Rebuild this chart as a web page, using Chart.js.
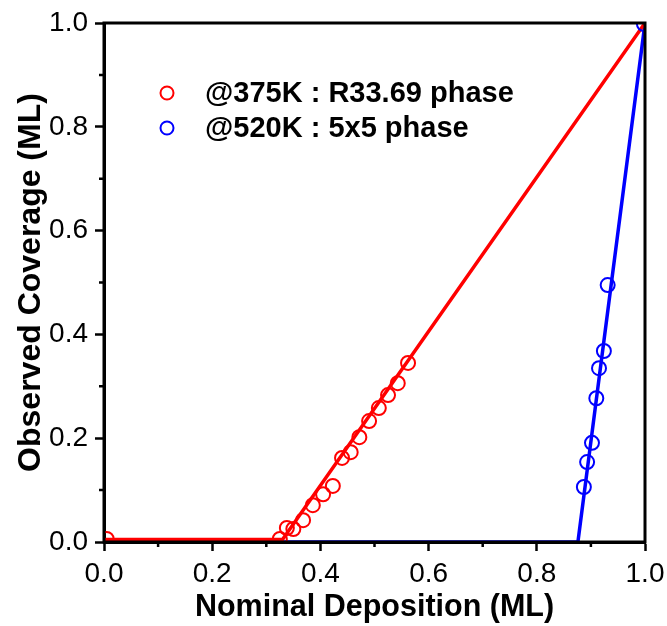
<!DOCTYPE html>
<html>
<head>
<meta charset="utf-8">
<script src="https://cdn.jsdelivr.net/npm/chart.js@4.4.1/dist/chart.umd.min.js"></script>
<style>
  html, body { margin: 0; padding: 0; background: #fff; }
  #wrap { width: 667px; height: 626px; }
</style>
</head>
<body>
<div id="wrap"><canvas id="myChart" width="667" height="626"></canvas></div>
<script>
'use strict';
// measured points
let redLabel = '@375K : R33.69 phase';
let redX = [0.005, 0.325, 0.338, 0.350, 0.368, 0.386, 0.405, 0.423, 0.440, 0.456, 0.472, 0.490, 0.508, 0.525, 0.543, 0.562];
let redY = [0.006, 0.006, 0.027, 0.025, 0.042, 0.071, 0.092, 0.108, 0.162, 0.173, 0.202, 0.233, 0.258, 0.283, 0.306, 0.345];

let blueLabel = '@520K : 5x5 phase';
let blueX = [0.887, 0.893, 0.902, 0.910, 0.915, 0.924, 0.931, 0.998];
let blueY = [0.106, 0.154, 0.191, 0.277, 0.335, 0.368, 0.495, 0.998];

// fitted lines (break points)
let redFitX = [0, 0.330, 1.0];
let redFitY = [0.005, 0.005, 1.0];
let blueFitX = [0, 0.876, 1.0];
let blueFitY = [0, 0, 1.0];

let xTicks = [0, 0.2, 0.4, 0.6, 0.8, 1.0];
let minorTicks = [0.1, 0.3, 0.5, 0.7, 0.9];

function toPoints( xs, ys ) {
  let pts = [];
  for ( let i = 0; i < xs.length; i++ ) {
    pts.push( { x: xs[i], y: ys[i] } );
  }
  return pts;
}

const fontFamily = '"Liberation Sans", Arial, sans-serif';

// frame + minor ticks + legend inside the plot
const extras = {
  id: 'extras',
  afterDraw( chart ) {
    const ctx = chart.ctx;
    const a = chart.chartArea;
    const xs = chart.scales.x;
    const ys = chart.scales.y;
    ctx.save();
    ctx.strokeStyle = '#000';
    ctx.lineWidth = 3;
    ctx.strokeRect( a.left, a.top, a.right - a.left, a.bottom - a.top );
    ctx.lineWidth = 2.5;
    ctx.beginPath();
    for ( let i = 0; i < minorTicks.length; i++ ) {
      let px = xs.getPixelForValue( minorTicks[i] );
      ctx.moveTo( px, a.bottom );
      ctx.lineTo( px, a.bottom + 5 );
      let py = ys.getPixelForValue( minorTicks[i] );
      ctx.moveTo( a.left, py );
      ctx.lineTo( a.left - 5, py );
    }
    ctx.stroke();

    // legend
    let items = [ chart.data.datasets[0], chart.data.datasets[1] ];
    ctx.font = 'bold 29px ' + fontFamily;
    ctx.textBaseline = 'middle';
    ctx.fillStyle = '#000';
    for ( let i = 0; i < items.length; i++ ) {
      let cy = 93 + i * 35;
      ctx.beginPath();
      ctx.strokeStyle = items[i].borderColor;
      ctx.lineWidth = 2;
      ctx.arc( 167, cy, 6.5, 0, Math.PI * 2 );
      ctx.stroke();
      ctx.fillText( items[i].label, 205, cy + 1 );
    }
    ctx.restore();
  }
};

const ctx = document.getElementById( 'myChart' ).getContext( '2d' );
const myChart = new Chart( ctx, {
  type: 'scatter',
  data: {
    datasets: [
      {
        label: redLabel,
        data: toPoints( redX, redY ),
        borderColor: '#ff0000',
        backgroundColor: 'rgba(0,0,0,0)',
        pointRadius: 7,
        pointBorderWidth: 2,
        showLine: false
      },
      {
        label: blueLabel,
        data: toPoints( blueX, blueY ),
        borderColor: '#0000ff',
        backgroundColor: 'rgba(0,0,0,0)',
        pointRadius: 7,
        pointBorderWidth: 2,
        showLine: false
      },
      {
        label: 'red fit',
        data: toPoints( redFitX, redFitY ),
        borderColor: '#ff0000',
        borderWidth: 3.5,
        pointRadius: 0,
        showLine: true
      },
      {
        label: 'blue fit',
        data: toPoints( blueFitX, blueFitY ),
        borderColor: '#0000ff',
        borderWidth: 3.5,
        pointRadius: 0,
        showLine: true
      }
    ]
  },
  options: {
    responsive: false,
    animation: false,
    layout: { padding: { left: 0, right: 22, top: 23, bottom: 0 } },
    plugins: {
      legend: { display: false },
      tooltip: { enabled: false }
    },
    scales: {
      x: {
        type: 'linear',
        min: 0,
        max: 1,
        afterFit( scale ) {
          scale.height = 84;
          scale.paddingLeft = 0;
          scale.paddingRight = 0;
        },
        afterBuildTicks( scale ) { scale.ticks = xTicks.map( v => ( { value: v } ) ); },
        border: { display: true, color: '#000', width: 3 },
        grid: { drawOnChartArea: false, drawTicks: true, tickLength: 9, tickWidth: 2.5, tickColor: '#000' },
        ticks: {
          color: '#000',
          padding: 6,
          maxRotation: 0,
          font: { family: fontFamily, size: 28 },
          callback: v => v.toFixed( 1 )
        },
        title: {
          display: true,
          text: 'Nominal Deposition (ML)',
          color: '#000',
          padding: { top: 0, bottom: 0 },
          font: { family: fontFamily, size: 30.5, weight: 'bold' }
        }
      },
      y: {
        type: 'linear',
        min: 0,
        max: 1,
        afterFit( scale ) {
          scale.width = 104;
          scale.paddingTop = 0;
          scale.paddingBottom = 0;
        },
        afterBuildTicks( scale ) { scale.ticks = xTicks.map( v => ( { value: v } ) ); },
        border: { display: true, color: '#000', width: 3 },
        grid: { drawOnChartArea: false, drawTicks: true, tickLength: 9, tickWidth: 2.5, tickColor: '#000' },
        ticks: {
          color: '#000',
          padding: 7,
          font: { family: fontFamily, size: 28 },
          callback: v => v.toFixed( 1 )
        },
        title: {
          display: true,
          text: 'Observed Coverage (ML)',
          color: '#000',
          padding: { top: 12, bottom: 0 },
          font: { family: fontFamily, size: 32, weight: 'bold' }
        }
      }
    }
  },
  plugins: [ extras ]
} );
</script>
</body>
</html>
